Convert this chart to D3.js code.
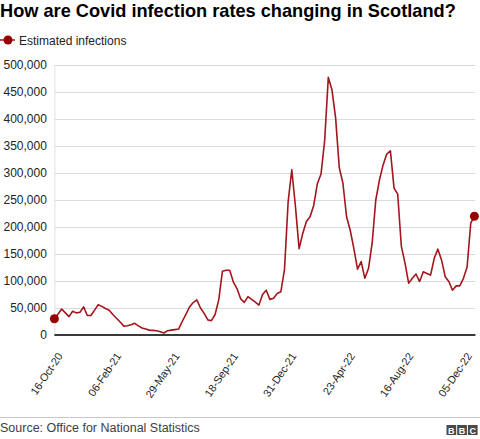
<!DOCTYPE html>
<html><head><meta charset="utf-8">
<script src="https://cdn.jsdelivr.net/npm/d3@7"></script>
<style>
html,body{margin:0;padding:0;background:#fff;}
svg{display:block;font-family:Arial,"Liberation Sans",Helvetica,sans-serif;}
</style></head>
<body>
<svg id="chart" width="480" height="439"></svg>
<script>
const values = [30000,39000,48000,41000,34000,44000,41000,42000,52000,36000,
36000,46000,56000,53000,49000,46000,38000,31000,24000,16500,
17000,19000,21600,17000,13000,11000,9000,8500,8000,6000,
3700,8000,9000,10000,11000,25000,38000,52000,60000,65000,
50000,40000,28000,26500,38000,65000,118000,120000,120000,98000,
86000,67000,60500,71000,66000,61000,55500,75000,83000,66000,
68000,77000,80000,121000,247000,306000,238000,160000,188000,210000,
219000,240000,280000,298000,360000,477000,454000,402000,310000,281000,
219000,194000,160000,122000,136000,105000,123000,170000,250000,287000,
315000,335000,341000,272000,261000,164000,133000,96000,105000,113000,
99000,117000,114000,111000,142000,159000,139000,108000,99000,83000,
91000,91000,105000,126000,207000,220000];
const tickIndex = [0,16,32,48,64,80,96,112];
const tickLabels = ["16-Oct-20","06-Feb-21","29-May-21","18-Sep-21","31-Dec-21","23-Apr-22","16-Aug-22","05-Dec-22"];
const yTicks = [0,50000,100000,150000,200000,250000,300000,350000,400000,450000,500000];
const seriesName = "Estimated infections";

(function () {
const svg = d3.select("#chart");
const mLeft = 54.4, mRight = 474.4, mTop = 65, mBottom = 335;
const x = d3.scaleLinear().domain([0, values.length - 1]).range([mLeft, mRight]);
const y = d3.scaleLinear().domain([0, 500000]).range([mBottom, mTop]);
const red = "#a3161c";

// title
svg.append("text").attr("x", 0).attr("y", 17)
  .attr("font-size", 18.2).attr("font-weight", "bold").attr("fill", "#000")
  .text("How are Covid infection rates changing in Scotland?");

// legend
svg.append("line").attr("x1", 0).attr("x2", 15).attr("y1", 40).attr("y2", 40)
  .attr("stroke", red).attr("stroke-width", 1.5);
svg.append("circle").attr("cx", 8).attr("cy", 40).attr("r", 4.5).attr("fill", "#990000");
svg.append("text").attr("x", 19).attr("y", 44.5).attr("font-size", 12).attr("fill", "#222").text(seriesName);

// y grid + labels
const yAxis = d3.axisLeft(y).tickValues(yTicks).tickFormat(d3.format(",")).tickSize(-(mRight + 1 - mLeft)).tickPadding(8);
const gy = svg.append("g").attr("transform", `translate(${mLeft},0)`).call(yAxis);
gy.select(".domain").remove();
gy.selectAll(".tick line").attr("stroke", "#dcdcdc").attr("stroke-width", 1);
gy.selectAll(".tick text").attr("font-size", 12).attr("fill", "#222")
  .attr("font-family", "Arial,'Liberation Sans',sans-serif").attr("x", -7.5);

// vertical light axis line
svg.append("line").attr("x1", mLeft + 0.5).attr("x2", mLeft + 0.5).attr("y1", mTop).attr("y2", mBottom)
  .attr("stroke", "#e2e2e2");

// x axis
const xAxis = d3.axisBottom(x).tickValues(tickIndex).tickFormat((d, i) => tickLabels[i]).tickSize(0);
const gx = svg.append("g").attr("transform", `translate(0,${mBottom})`).call(xAxis);
gx.select(".domain").remove();
gx.selectAll(".tick text").attr("font-size", 10.8).attr("fill", "#222")
  .attr("font-family", "Arial,'Liberation Sans',sans-serif")
  .attr("text-anchor", "end").attr("y", 0).attr("dy", 0)
  .attr("transform", "translate(8.3,21) rotate(-56)");

// zero line
svg.append("line").attr("x1", mLeft).attr("x2", mRight + 1).attr("y1", y(0)).attr("y2", y(0))
  .attr("stroke", "#3a3a3a").attr("stroke-width", 2);

// line
const line = d3.line().x((d, i) => x(i)).y(d => y(d));
svg.append("path").datum(values).attr("d", line).attr("fill", "none")
  .attr("stroke", red).attr("stroke-width", 1.6).attr("stroke-linejoin", "round");

// end dots
[0, values.length - 1].forEach(i => {
  svg.append("circle").attr("cx", x(i)).attr("cy", y(values[i])).attr("r", 4.5).attr("fill", "#990000");
});

// footer
svg.append("line").attr("x1", 0).attr("x2", 480).attr("y1", 417.5).attr("y2", 417.5).attr("stroke", "#c8c8c8");
svg.append("text").attr("x", 0).attr("y", 432).attr("font-size", 12.5).attr("fill", "#404040")
  .text("Source: Office for National Statistics");
const bbc = svg.append("g").attr("transform", "translate(446.5,425)");
["B","B","C"].forEach((c, i) => {
  bbc.append("rect").attr("x", i * 10.7).attr("y", 0).attr("width", 9.7).attr("height", 10).attr("fill", "#4a4a4a");
  bbc.append("text").attr("x", i * 10.7 + 4.85).attr("y", 8.6).attr("text-anchor", "middle")
    .attr("font-size", 9).attr("font-weight", "bold").attr("fill", "#fff").text(c);
});
})();
</script>
</body></html>
